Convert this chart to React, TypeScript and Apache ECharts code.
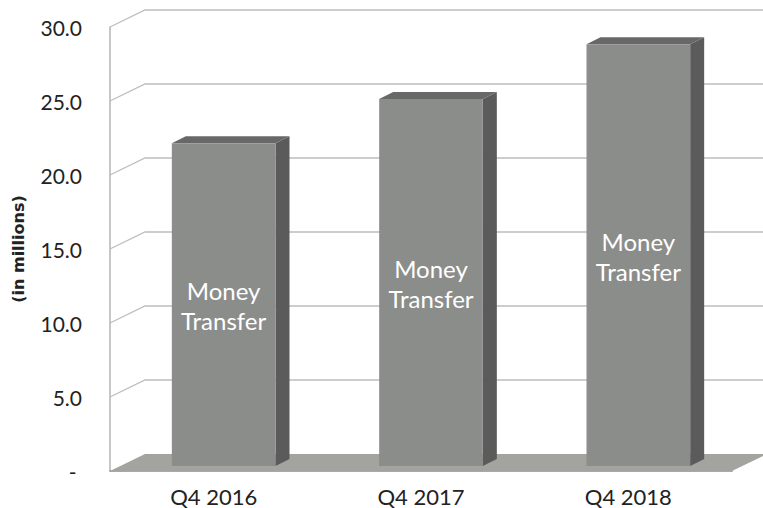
import React, { useEffect, useRef } from "react";
import * as echarts from "echarts";

const categories = ["Q4 2016", "Q4 2017", "Q4 2018"];
const values = [21.8, 24.8, 28.5];
const yTicks = [0, 5, 10, 15, 20, 25, 30];
const barLabel = "Money\nTransfer";

const WALL_DX = 35;
const WALL_DY = 17;
const BAR_PLANE_DX = 10;
const BAR_PLANE_DY = 5;
const BAR_DX = 14;
const BAR_DY = 7;
const FONT = "Lato, 'Noto Sans', sans-serif";

export default function App() {
  const ref = useRef<HTMLDivElement>(null);
  useEffect(() => {
    const chart = echarts.init(ref.current!, undefined, { renderer: "svg" });
    chart.setOption({
      animation: false,
      backgroundColor: "#ffffff",
      grid: { left: 110, top: 27, right: 31, bottom: 37, containLabel: false, outerBoundsMode: "none" },
      xAxis: {
        type: "category",
        data: categories,
        axisTick: { show: false },
        axisLine: { show: true, onZero: false, lineStyle: { color: "#a9a9a9", width: 2 } },
        axisLabel: { color: "#222222", fontFamily: FONT, fontSize: 22, margin: 14, lineHeight: 22 },
        splitLine: { show: false },
      },
      yAxis: {
        type: "value",
        min: 0,
        max: 30,
        interval: 5,
        name: "(in millions)",
        nameLocation: "middle",
        nameRotate: 90,
        nameGap: 84,
        nameTextStyle: { color: "#222222", fontFamily: "'DejaVu Sans', sans-serif", fontSize: 16, fontWeight: "bold" },
        axisTick: { show: false },
        axisLine: { show: true, lineStyle: { color: "#b5b5b5", width: 1.5 } },
        splitLine: { show: false },
        axisLabel: {
          color: "#222222",
          fontFamily: FONT,
          fontSize: 21,
          margin: 28,
          formatter: (v: number) => (v === 0 ? "-\u00a0" : v.toFixed(1)),
        },
      },
      series: [
        {
          type: "custom",
          silent: true,
          z: 1,
          data: yTicks.map((t) => [0, t]),
          encode: { x: 0, y: 1 },
          renderItem: (params: any, api: any) => {
            const t = api.value(1);
            const y = api.coord([0, t])[1];
            const cs = params.coordSys;
            const x0 = cs.x;
            const x1 = cs.x + cs.width;
            if (t === 0) {
              return {
                type: "polygon",
                shape: {
                  points: [
                    [x0, y],
                    [x0 + WALL_DX, y - WALL_DY],
                    [x1 + WALL_DX, y - WALL_DY],
                    [x1, y],
                  ],
                },
                style: { fill: "#a3a49f", stroke: "none" },
              };
            }
            return {
              type: "polyline",
              shape: {
                points: [
                  [x0, y],
                  [x0 + WALL_DX, y - WALL_DY],
                  [x1 + WALL_DX, y - WALL_DY],
                ],
              },
              style: { stroke: "#bdbdbd", lineWidth: 1.3, fill: "none" },
            };
          },
        },
        {
          type: "custom",
          silent: true,
          z: 3,
          data: values.map((v, i) => [i, v]),
          encode: { x: 0, y: 1 },
          renderItem: (_params: any, api: any) => {
            const i = api.value(0);
            const v = api.value(1);
            const top = api.coord([i, v]);
            const base = api.coord([i, 0]);
            const w = api.size([1, 0])[0] * 0.5;
            const l = top[0] + BAR_PLANE_DX - w / 2;
            const r = l + w;
            const t = top[1] - BAR_PLANE_DY;
            const b = base[1] - BAR_PLANE_DY;
            return {
              type: "group",
              children: [
                {
                  type: "polygon",
                  shape: { points: [[r, t], [r + BAR_DX, t - BAR_DY], [r + BAR_DX, b - BAR_DY], [r, b]] },
                  style: { fill: "#5a5b5a" },
                },
                {
                  type: "polygon",
                  shape: { points: [[l, t], [l + BAR_DX, t - BAR_DY], [r + BAR_DX, t - BAR_DY], [r, t]] },
                  style: { fill: "#676867" },
                },
                {
                  type: "polygon",
                  shape: { points: [[l, t], [r, t], [r, b], [l, b]] },
                  style: { fill: "#8b8d8b" },
                },
                {
                  type: "text",
                  style: {
                    text: barLabel,
                    x: (l + r) / 2,
                    y: (t + b) / 2 + 1,
                    align: "center",
                    verticalAlign: "middle",
                    fill: "#ffffff",
                    font: `24px ${FONT}`,
                    lineHeight: 30,
                  },
                },
              ],
            };
          },
        },
      ],
    });
    return () => chart.dispose();
  }, []);
  return (
    <div
      ref={ref}
      style={{ position: "absolute", left: 0, top: 0, width: 763, height: 508 }}
    />
  );
}
